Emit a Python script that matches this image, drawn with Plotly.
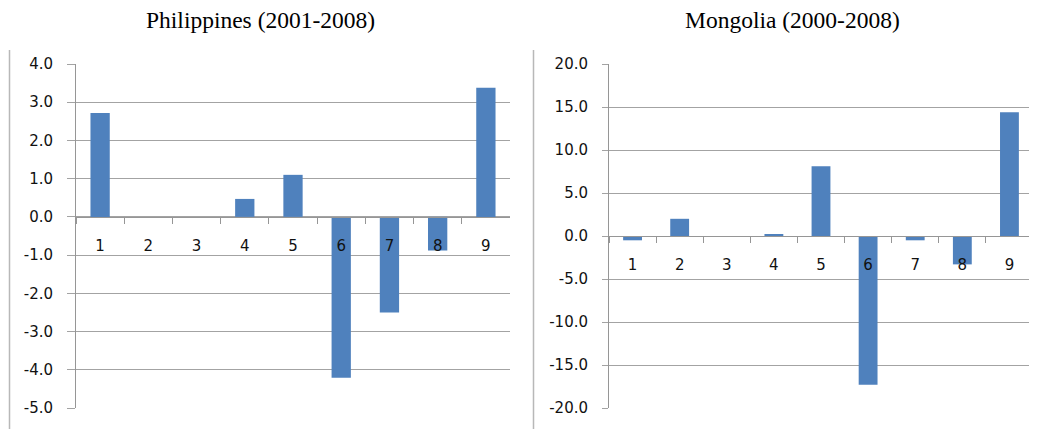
import plotly.graph_objects as go

categories = ["1", "2", "3", "4", "5", "6", "7", "8", "9"]
philippines_values = [2.72, 0.0, 0.0, 0.47, 1.10, -4.21, -2.50, -0.88, 3.38]
mongolia_values = [-0.5, 2.0, 0.0, 0.2, 8.1, -17.3, -0.5, -3.3, 14.4]
left_title = "Philippines (2001-2008)"
right_title = "Mongolia (2000-2008)"
left_yticks = [4.0, 3.0, 2.0, 1.0, 0.0, -1.0, -2.0, -3.0, -4.0, -5.0]
right_yticks = [20.0, 15.0, 10.0, 5.0, 0.0, -5.0, -10.0, -15.0, -20.0]

# page body has an 8px margin, so the figure is drawn 8px smaller and offset
OFF = 8
W, H = 1037 - OFF, 429 - OFF
T = 64 - OFF
B = H - (407.7 - OFF)
PH = H - T - B

BAR = "#4F81BD"
GRID = "#a3a3a3"
AXIS = "#969696"
TICKFONT = dict(family="DejaVu Sans", size=15, color="#111111")


def px(x):
    return (x - OFF) / W


def py(y):
    return (H - B - (y - OFF)) / PH


fig = go.Figure()
fig.add_trace(go.Bar(x=categories, y=philippines_values, marker=dict(color=BAR, line=dict(width=0)),
                     xaxis="x", yaxis="y", showlegend=False))
fig.add_trace(go.Bar(x=categories, y=mongolia_values, marker=dict(color=BAR, line=dict(width=0)),
                     xaxis="x2", yaxis="y2", showlegend=False))


def yax(ticks, anchor, tl, standoff):
    lo, hi = min(ticks), max(ticks)
    return dict(range=[lo, hi], tickvals=ticks, ticktext=[f"{t:.1f}" for t in ticks],
                showgrid=True, gridcolor=GRID, gridwidth=1, zeroline=False,
                showline=True, linecolor=AXIS, linewidth=1,
                ticks="outside", ticklen=tl, tickcolor=GRID, tickwidth=1,
                tickfont=TICKFONT, anchor=anchor, domain=[0, 1], fixedrange=True,
                ticklabelstandoff=standoff)


def xax(domain, ticks):
    lo, hi = min(ticks), max(ticks)
    pos = (0 - lo) / (hi - lo)
    return dict(domain=domain, type="category", anchor="free", position=pos,
                showgrid=False, zeroline=False,
                showline=True, linecolor=AXIS, linewidth=1,
                ticks="outside", tickson="boundaries", ticklen=6, tickcolor=AXIS, tickwidth=1,
                tickfont=TICKFONT, ticklabelstandoff=15, range=[-0.5, 8.5], fixedrange=True)


fig.update_layout(
    width=W, height=H,
    margin=dict(l=0, r=0, t=T, b=B),
    paper_bgcolor="white", plot_bgcolor="white",
    bargap=0.6,
    xaxis=xax([px(76), px(510)], left_yticks),
    xaxis2=xax([px(609), px(1033)], right_yticks),
    yaxis=yax(left_yticks, "x", 8, 11),
    yaxis2=yax(right_yticks, "x2", 6, 11),
    annotations=[
        dict(text=left_title, x=px(260), y=py(20), xref="paper", yref="paper",
             xanchor="center", yanchor="middle", showarrow=False,
             font=dict(family="Liberation Serif", size=23.5, color="black")),
        dict(text=right_title, x=px(792), y=py(20), xref="paper", yref="paper",
             xanchor="center", yanchor="middle", showarrow=False,
             font=dict(family="Liberation Serif", size=23.5, color="black")),
    ],
    shapes=[
        dict(type="line", xref="paper", yref="paper", x0=px(9.5), x1=px(9.5),
             y0=py(50), y1=py(429), line=dict(color="#b8b8b8", width=1.5)),
        dict(type="line", xref="paper", yref="paper", x0=px(533.5), x1=px(533.5),
             y0=py(50), y1=py(429), line=dict(color="#b8b8b8", width=1.5)),
    ],
)

fig.write_html("out.html")
